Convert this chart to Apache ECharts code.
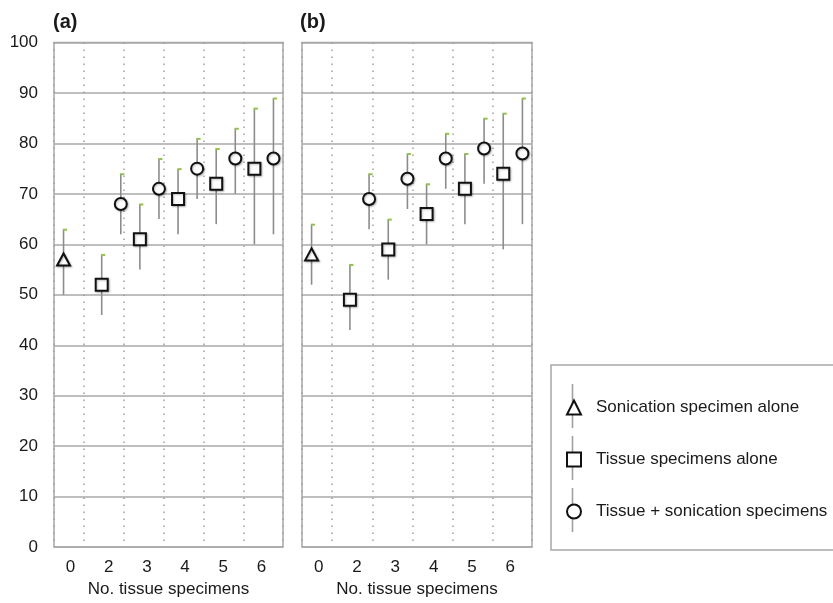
<!DOCTYPE html>
<html>
<head>
<meta charset="UTF-8">
<title>Detection rate by number of tissue specimens</title>
<script src="https://cdn.jsdelivr.net/npm/echarts@6/dist/echarts.min.js"></script>
<style>
  html, body { margin: 0; padding: 0; background: #fff; }
</style>
</head>
<body>
<div id="main" style="width: 833px;height:603px;"></div>
<script type="text/javascript">
        // x labels of both panels
        var categories = ['0', '2', '3', '4', '5', '6'];
        var seriesNames = ['Sonication specimen alone', 'Tissue specimens alone', 'Tissue + sonication specimens'];

        // panel (a)
        var sonicationA = [57], sonicationLowA = [50], sonicationHighA = [63];
        var tissueA = [52, 61, 69, 72, 75];
        var tissueLowA = [46, 55, 62, 64, 60];
        var tissueHighA = [58, 68, 75, 79, 87];
        var comboA = [68, 71, 75, 77, 77];
        var comboLowA = [62, 65, 69, 70, 62];
        var comboHighA = [74, 77, 81, 83, 89];

        // panel (b)
        var sonicationB = [58], sonicationLowB = [52], sonicationHighB = [64];
        var tissueB = [49, 59, 66, 71, 74];
        var tissueLowB = [43, 53, 60, 64, 59];
        var tissueHighB = [56, 65, 72, 78, 86];
        var comboB = [69, 73, 77, 79, 78];
        var comboLowB = [63, 67, 71, 72, 64];
        var comboHighB = [74, 78, 82, 85, 89];

        var font = '"Liberation Sans", Arial, sans-serif';
        var ink = '#1a1a1a';
        var gridGray = '#a8a8a8';

        var myChart = echarts.init(document.getElementById('main'));

        // each tissue count gets two slots: square then circle; sonication alone sits in slot 0
        function slotOf(catIndex, kind) {
            if (kind === 0) return 0;
            return catIndex * 2 + (kind === 2 ? 1 : 0);
        }

        function renderBar(params, api) {
            var x = api.value(0);
            var lo = api.coord([x, api.value(1)]);
            var hi = api.coord([x, api.value(2)]);
            return {
                type: 'group',
                children: [
                    { type: 'line', shape: { x1: lo[0], y1: lo[1], x2: hi[0], y2: hi[1] },
                      style: { stroke: '#8c8c8c', lineWidth: 1.6 } },
                    { type: 'line', shape: { x1: hi[0] - 0.5, y1: hi[1] + 0.5, x2: hi[0] + 3.5, y2: hi[1] + 0.5 },
                      style: { stroke: '#8dc63f', lineWidth: 2 } }
                ]
            };
        }

        var markerStyle = {
            color: '#fff',
            opacity: 1,
            borderColor: '#111',
            borderWidth: 2,
            shadowBlur: 2,
            shadowColor: 'rgba(0,0,0,0.25)',
            shadowOffsetX: 1,
            shadowOffsetY: 1
        };
        var symbols = ['triangle', 'rect', 'circle'];
        var symbolSizes = [[13, 12], 12, 12];

        function panelSeries(p, groups) {
            var out = [];
            groups.forEach(function (g, kind) {
                var pts = [], bars = [];
                g.mean.forEach(function (v, i) {
                    var cat = kind === 0 ? 0 : i + 1;
                    var s = slotOf(cat, kind);
                    pts.push([s, v]);
                    bars.push([s, g.low[i], g.high[i]]);
                });
                out.push({
                    name: 'bars-' + p + '-' + kind,
                    type: 'custom',
                    xAxisIndex: p, yAxisIndex: p,
                    renderItem: renderBar,
                    encode: { x: 0, y: [1, 2] },
                    data: bars,
                    silent: true,
                    z: 2
                });
                out.push({
                    name: seriesNames[kind],
                    type: 'scatter',
                    xAxisIndex: p, yAxisIndex: p,
                    symbol: symbols[kind],
                    symbolSize: symbolSizes[kind],
                    itemStyle: markerStyle,
                    data: pts,
                    silent: true,
                    z: 3
                });
            });
            return out;
        }

        var series = [].concat(
            panelSeries(0, [
                { mean: sonicationA, low: sonicationLowA, high: sonicationHighA },
                { mean: tissueA, low: tissueLowA, high: tissueHighA },
                { mean: comboA, low: comboLowA, high: comboHighA }
            ]),
            panelSeries(1, [
                { mean: sonicationB, low: sonicationLowB, high: sonicationHighB },
                { mean: tissueB, low: tissueLowB, high: tissueHighB },
                { mean: comboB, low: comboLowB, high: comboHighB }
            ])
        );

        var grids = [
            { left: 54, top: 42.5, width: 229, bottom: 53 },
            { left: 302, top: 42.5, width: 230, bottom: 53 }
        ];

        var xAxes = [], yAxes = [];
        grids.forEach(function (g, i) {
            g.show = true;
            g.borderColor = gridGray;
            g.borderWidth = 1.5;
            // slots for the markers
            xAxes.push({ type: 'value', gridIndex: i, min: -0.5, max: 11.5, show: false });
        });
        grids.forEach(function (g, i) {
            // dotted separators
            xAxes.push({
                type: 'value', gridIndex: i, min: 0.25, max: 5.975,
                minInterval: 1, maxInterval: 1,
                axisLine: { show: false }, axisTick: { show: false }, axisLabel: { show: false },
                splitLine: { show: true, lineStyle: { color: '#a0a0a0', width: 1.5, type: [1.5, 5.5] } }
            });
        });
        grids.forEach(function (g, i) {
            xAxes.push({
                type: 'category', gridIndex: i, data: categories, position: 'bottom',
                axisLine: { show: false }, axisTick: { show: false }, splitLine: { show: false },
                axisLabel: { fontSize: 17, color: ink, fontFamily: font, margin: 12, padding: [0, 5, 0, 0] },
                name: 'No. tissue specimens', nameLocation: 'middle', nameGap: 33,
                nameTextStyle: { fontSize: 17, color: ink, fontFamily: font }
            });
            yAxes.push({
                type: 'value', gridIndex: i, min: 0, max: 100, interval: 10,
                axisLine: { show: false }, axisTick: { show: false },
                axisLabel: { show: i === 0, fontSize: 17, color: ink, fontFamily: font, margin: 16 },
                splitLine: { show: true, lineStyle: { color: gridGray, width: 1.5 } }
            });
        });

        var legendRows = [406, 458, 510];

        var option = {
            animation: false,
            backgroundColor: '#fff',
            title: [
                { text: '(a)', left: 53, top: 12, padding: 0,
                  textStyle: { fontSize: 20, fontWeight: 'bold', color: ink, fontFamily: font } },
                { text: '(b)', left: 300, top: 12, padding: 0,
                  textStyle: { fontSize: 20, fontWeight: 'bold', color: ink, fontFamily: font } }
            ],
            legend: {
                orient: 'vertical',
                left: 551, top: 365,
                padding: [34, 8, 30, 15],
                itemWidth: 14, itemHeight: 14, itemGap: 35,
                borderColor: gridGray, borderWidth: 1.5,
                selectedMode: false,
                textStyle: { fontSize: 17, color: ink, fontFamily: font, padding: [0, 0, 0, 10] },
                data: seriesNames.map(function (n, k) {
                    return { name: n, icon: symbols[k],
                             itemStyle: { color: '#fff', borderColor: '#111', borderWidth: 2, opacity: 1 } };
                }),
                z: 10
            },
            graphic: legendRows.map(function (y) {
                return { type: 'line', z: 1, silent: true,
                         shape: { x1: 572.5, y1: y - 22, x2: 572.5, y2: y + 22 },
                         style: { stroke: '#a0a0a0', lineWidth: 1.6 } };
            }),
            grid: grids,
            xAxis: xAxes,
            yAxis: yAxes,
            series: series
        };

        myChart.setOption(option);
</script>
</body>
</html>
